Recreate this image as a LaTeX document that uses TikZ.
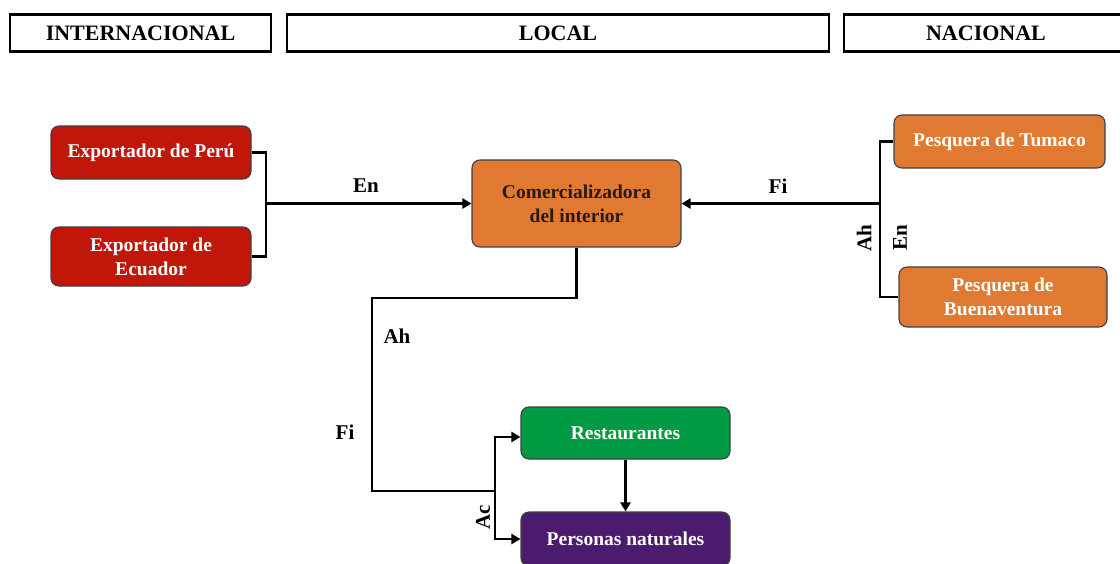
\documentclass[tikz,border=0pt]{standalone}
\usepackage{fontspec}
\setmainfont{Liberation Serif}
\usetikzlibrary{arrows.meta}
\definecolor{redx}{HTML}{C1170A}
\definecolor{orangex}{HTML}{E07A32}
\definecolor{greenx}{HTML}{009A44}
\definecolor{purplex}{HTML}{4B1C6E}
\definecolor{darktext}{HTML}{2A1A10}
\begin{document}
\begin{tikzpicture}[x=1pt,y=-1pt,
  hdr/.style={draw=black, line width=2.8pt, minimum height=37pt, inner sep=0pt, font=\fontsize{22}{24}\selectfont\bfseries},
  box/.style={draw=black!75, line width=1.1pt, rounded corners=8pt, inner sep=0pt, align=center, font=\fontsize{19.5}{24}\selectfont\bfseries, text=white},
  conn/.style={line width=2.8pt},
  arr/.style={conn, -{Triangle[length=9pt,width=10pt]}},
  lbl/.style={font=\fontsize{21}{22}\selectfont\bfseries}]
\useasboundingbox (0,0) rectangle (1120,563);
\clip (0,0) rectangle (1120,563);
% headers
\node[hdr, minimum width=261pt] (hint) at (140.5,33) {INTERNACIONAL};
\node[hdr, minimum width=542pt] (hloc) at (558,33) {LOCAL};
\node[hdr, minimum width=284pt] (hnac) at (986,33) {NACIONAL};
% boxes
\node[box, fill=redx, minimum width=200pt, minimum height=53pt] (peru) at (151,152.5) {Exportador de Perú};
\node[box, fill=redx, minimum width=200pt, minimum height=59pt] (ecuador) at (151,256.5) {Exportador de\\Ecuador};
\node[box, fill=orangex, text=darktext, minimum width=209pt, minimum height=87pt] (comer) at (576.5,203.5) {Comercializadora\\del interior};
\node[box, fill=orangex, minimum width=211pt, minimum height=53pt] (tumaco) at (999.5,141.5) {Pesquera de Tumaco};
\node[box, fill=orangex, minimum width=208pt, minimum height=60pt] (buena) at (1003,297) {Pesquera de\\Buenaventura};
\node[box, fill=greenx, minimum width=209pt, minimum height=52pt] (rest) at (625.5,433) {Restaurantes};
\node[box, fill=purplex, minimum width=209pt, minimum height=54pt] (pers) at (625.5,539) {Personas naturales};
% junction coordinates
\coordinate (jl) at (266,203.5);
\coordinate (jr) at (880,203.5);
\coordinate (b2) at (372,298);
\coordinate (b3) at (372,491);
\coordinate (jb) at (495,491);
% connectors
\draw[conn] (peru.east) -| (jl) |- (ecuador.east);
\draw[arr] (jl) -- (comer.west);
\draw[conn] (tumaco.west) -| (jr) |- (buena.west);
\draw[arr] (jr) -- (comer.east);
\draw[conn] (comer.south) |- (b2) -- (b3) -- (jb);
\draw[arr] (jb) |- ([yshift=-4pt]rest.west);
\draw[arr] (jb) |- (pers.west);
\draw[arr] (rest.south) -- (pers.north);
% labels
\node[lbl] (len) at (366,186) {En};
\node[lbl] (lfi) at (778,186) {Fi};
\node[lbl, rotate=90] (lah2) at (864,238) {Ah};
\node[lbl, rotate=90] (len2) at (900,238) {En};
\node[lbl] (lah) at (397,336) {Ah};
\node[lbl] (lfi2) at (345,432) {Fi};
\node[lbl, rotate=90] (lac) at (483,517) {Ac};
\end{tikzpicture}
\end{document}
